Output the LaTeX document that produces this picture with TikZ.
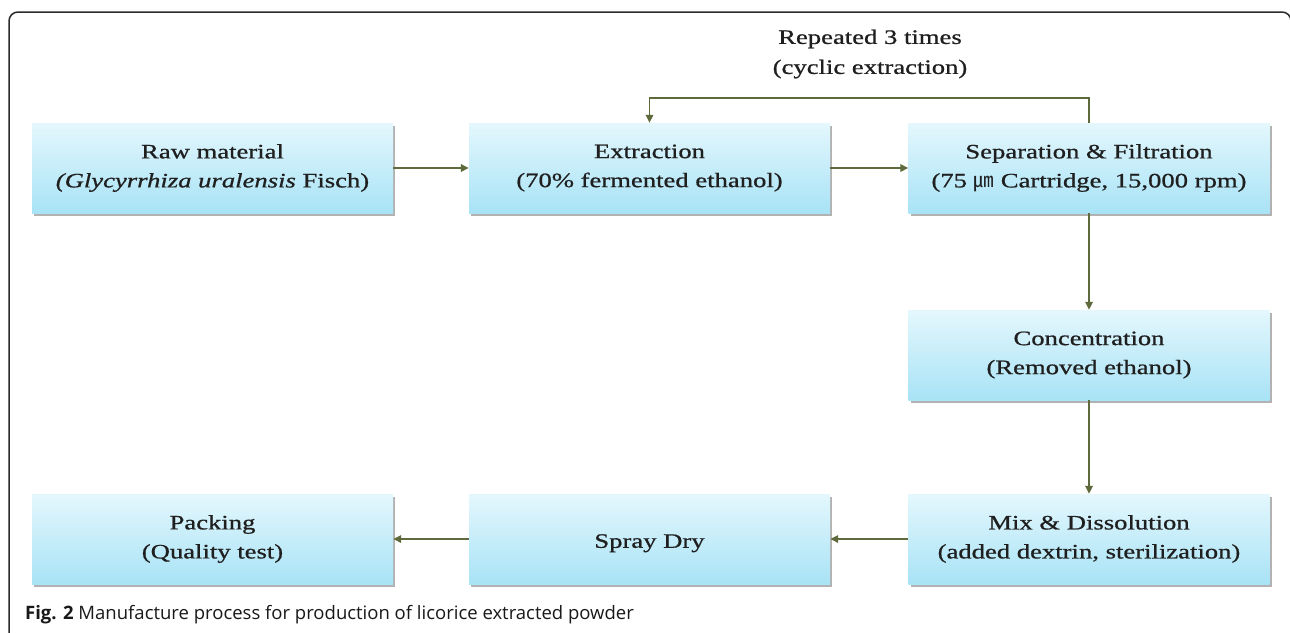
\documentclass[tikz,border=0pt]{standalone}
\usepackage{fontspec}
\setmainfont{Liberation Serif}
\newfontfamily\boxfont[FakeStretch=1.3,FakeBold=0.8]{Liberation Serif}
\newfontfamily\capfont{Open Sans}
\newfontfamily\cjkfont{Noto Sans CJK KR}
\usetikzlibrary{arrows.meta,shadows}
\definecolor{arrowc}{HTML}{5E6A3C}
\definecolor{boxtop}{HTML}{E4F7FD}
\definecolor{boxbot}{HTML}{A8E3F6}
\definecolor{framec}{HTML}{2B2B2B}
\begin{document}
\begin{tikzpicture}[x=1pt,y=-1pt,
  stepbox/.style={rectangle, minimum width=361pt, minimum height=90pt,
    top color=boxtop, bottom color=boxbot, inner sep=0pt, align=center,
    font=\boxfont\fontsize{20.5}{29}\selectfont, text=black!88,
    execute at begin node={\rule{0pt}{22pt}},
    drop shadow={shadow xshift=2pt, shadow yshift=-2.5pt, fill=black, opacity=0.3}},
  flow/.style={draw=arrowc, line width=1.6pt, -{Triangle[length=8pt,width=7.5pt]}},
  lbl/.style={align=center, font=\boxfont\fontsize{20.5}{30}\selectfont, text=black!88}]
\clip (0,0) rectangle (1290,632);
\fill[white] (0,0) rectangle (1290,632);
\draw[line width=1.5pt, framec, rounded corners=9pt] (9,700) -- (9,12) -- (1291,12) -- (1291,700);

\node[stepbox] (raw) at (212.5,168) {Raw material\\{\itshape(Glycyrrhiza uralensis} Fisch)};
\node[stepbox] (ext) at (649.5,168) {Extraction\\(70\% fermented ethanol)};
\node[stepbox] (sep) at (1089,168) {Separation \& Filtration\\(75 {\cjkfont ㎛} Cartridge, 15,000 rpm)};
\node[stepbox] (conc) at (1089,355) {Concentration\\(Removed ethanol)};
\node[stepbox] (mix) at (1089,539) {Mix \& Dissolution\\(added dextrin, sterilization)};
\node[stepbox] (spray) at (649.5,539) {Spray Dry};
\node[stepbox] (pack) at (212.5,539) {Packing\\(Quality test)};

\node[lbl] (rep) at (870,54) {Repeated 3 times\\(cyclic extraction)};

\draw[flow] (raw) -- (ext);
\draw[flow] (ext) -- (sep);
\draw[flow] (sep) -- (conc);
\draw[flow] (conc) -- (mix);
\draw[flow] (mix) -- (spray);
\draw[flow] (spray) -- (pack);
\draw[flow] (sep.north) -- ++(0,-25) -| (ext.north);

\node[anchor=base west, inner sep=0pt, font=\capfont\fontsize{18.5}{22}\selectfont, text=black!90] (cap) at (25,619)
  {\textbf{Fig. 2} Manufacture process for production of licorice extracted powder};
\end{tikzpicture}
\end{document}
